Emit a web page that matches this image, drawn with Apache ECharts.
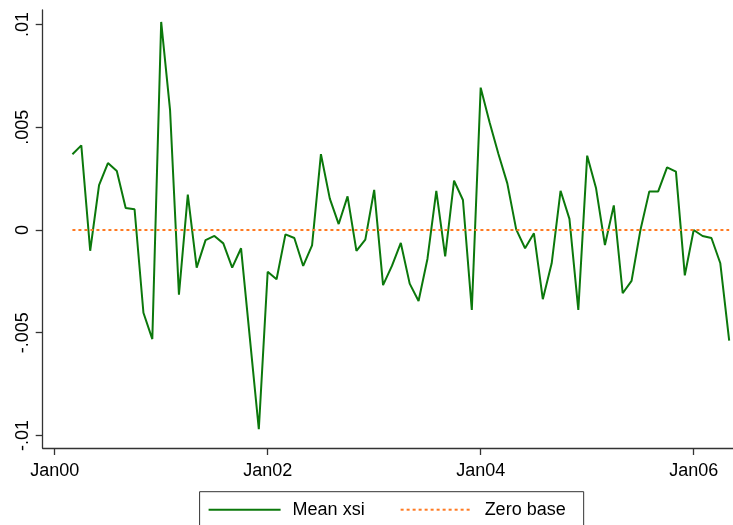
<!DOCTYPE html>
<html>
<head>
<meta charset="utf-8">
<script src="https://cdn.jsdelivr.net/npm/echarts@6/dist/echarts.min.js"></script>
<style>
html,body{margin:0;padding:0;background:#fff;}
#chart{width:733px;height:525px;}
</style>
</head>
<body>
<div id="chart"></div>
<script>
// Months (Mar 2000 .. May 2006)
const months = [
  '2000-03','2000-04','2000-05','2000-06','2000-07','2000-08','2000-09','2000-10','2000-11','2000-12',
  '2001-01','2001-02','2001-03','2001-04','2001-05','2001-06','2001-07','2001-08','2001-09','2001-10','2001-11','2001-12',
  '2002-01','2002-02','2002-03','2002-04','2002-05','2002-06','2002-07','2002-08','2002-09','2002-10','2002-11','2002-12',
  '2003-01','2003-02','2003-03','2003-04','2003-05','2003-06','2003-07','2003-08','2003-09','2003-10','2003-11','2003-12',
  '2004-01','2004-02','2004-03','2004-04','2004-05','2004-06','2004-07','2004-08','2004-09','2004-10','2004-11','2004-12',
  '2005-01','2005-02','2005-03','2005-04','2005-05','2005-06','2005-07','2005-08','2005-09','2005-10','2005-11','2005-12',
  '2006-01','2006-02','2006-03','2006-04','2006-05'
];
const meanXsi = [
  0.00369, 0.00412, -0.00101, 0.00218, 0.00326, 0.00287, 0.00107, 0.00101, -0.00403, -0.00531,
  0.01013, 0.00584, -0.00315, 0.00172, -0.00183, -0.00049, -0.00029, -0.00065, -0.00183, -0.00089, -0.00530, -0.00970,
  -0.00203, -0.00240, -0.00021, -0.00039, -0.00175, -0.00075, 0.00369, 0.00153, 0.00029, 0.00164, -0.00102, -0.00047,
  0.00195, -0.00268, -0.00175, -0.00063, -0.00261, -0.00346, -0.00141, 0.00190, -0.00128, 0.00240, 0.00146, -0.00389,
  0.00693, 0.00525, 0.00370, 0.00227, 0.00003, -0.00089, -0.00016, -0.00337, -0.00162, 0.00191, 0.00054, -0.00389,
  0.00362, 0.00203, -0.00073, 0.00120, -0.00308, -0.00248, 0.00000, 0.00188, 0.00188, 0.00305, 0.00284, -0.00221,
  0.00000, -0.00029, -0.00039, -0.00162, -0.00539
];
const zeroBaseMonths = ['2000-03', '2006-05'];
const zeroBase = [0, 0];

const xTickMonths = ['2000-01', '2002-01', '2004-01', '2006-01'];
const xTickLabels = ['Jan00', 'Jan02', 'Jan04', 'Jan06'];
const yTicks = [-0.01, -0.005, 0, 0.005, 0.01];
const yTickLabels = ['-.01', '-.005', '0', '.005', '.01'];

function mIdx(s) {
  const p = s.split('-');
  return (parseInt(p[0], 10) - 2000) * 12 + (parseInt(p[1], 10) - 1);
}
const xTicks = xTickMonths.map(mIdx);

const FONT = 'Liberation Sans, Arial, sans-serif';
const chart = echarts.init(document.getElementById('chart'), null, {renderer: 'canvas'});
chart.setOption({
  animation: false,
  backgroundColor: '#ffffff',
  grid: {left: 42.7, right: 0, top: 10, bottom: 77, containLabel: false},
  xAxis: {
    type: 'value', min: -1.35, max: 76.43,
    splitLine: {show: false},
    axisLine: {show: true, onZero: false, lineStyle: {color: '#333', width: 1.3}},
    axisTick: {show: true, customValues: xTicks, length: 7, lineStyle: {color: '#333', width: 1.3}},
    axisLabel: {
      customValues: xTicks, margin: 14, color: '#000', fontSize: 18, fontFamily: FONT,
      formatter: function (v) { const i = xTicks.indexOf(Math.round(v)); return i >= 0 ? xTickLabels[i] : ''; }
    }
  },
  yAxis: {
    type: 'value', min: -0.010613, max: 0.010711,
    splitLine: {show: false},
    axisLine: {show: true, onZero: false, lineStyle: {color: '#333', width: 1.3}},
    axisTick: {show: true, customValues: yTicks, length: 7, lineStyle: {color: '#333', width: 1.3}},
    axisLabel: {
      customValues: yTicks, rotate: 90, margin: 11, color: '#000', fontSize: 18, fontFamily: FONT,
      formatter: function (v) {
        for (let i = 0; i < yTicks.length; i++) { if (Math.abs(yTicks[i] - v) < 1e-9) return yTickLabels[i]; }
        return '';
      }
    }
  },
  legend: {
    left: 199.6, top: 491.7, orient: 'horizontal',
    itemWidth: 72, itemHeight: 14, itemGap: 35,
    borderColor: '#333', borderWidth: 1, borderRadius: 0,
    padding: [9, 18, 20, 8],
    itemStyle: {color: 'rgba(0,0,0,0)', borderWidth: 0, opacity: 0},
    textStyle: {fontSize: 18, color: '#000', fontFamily: FONT, padding: [0, 0, 0, 7]},
    data: ['Mean xsi', 'Zero base']
  },
  series: [
    {
      name: 'Mean xsi', type: 'line', symbol: 'none',
      data: months.map((m, i) => [mIdx(m), meanXsi[i]]),
      lineStyle: {color: '#0b780b', width: 2}, itemStyle: {color: '#0b780b'}
    },
    {
      name: 'Zero base', type: 'line', symbol: 'none', z: 3,
      data: zeroBaseMonths.map((m, i) => [mIdx(m), zeroBase[i]]),
      lineStyle: {color: '#ff7a22', width: 2, type: [3, 3]}, itemStyle: {color: '#ff7a22'}
    }
  ]
});
</script>
</body>
</html>
